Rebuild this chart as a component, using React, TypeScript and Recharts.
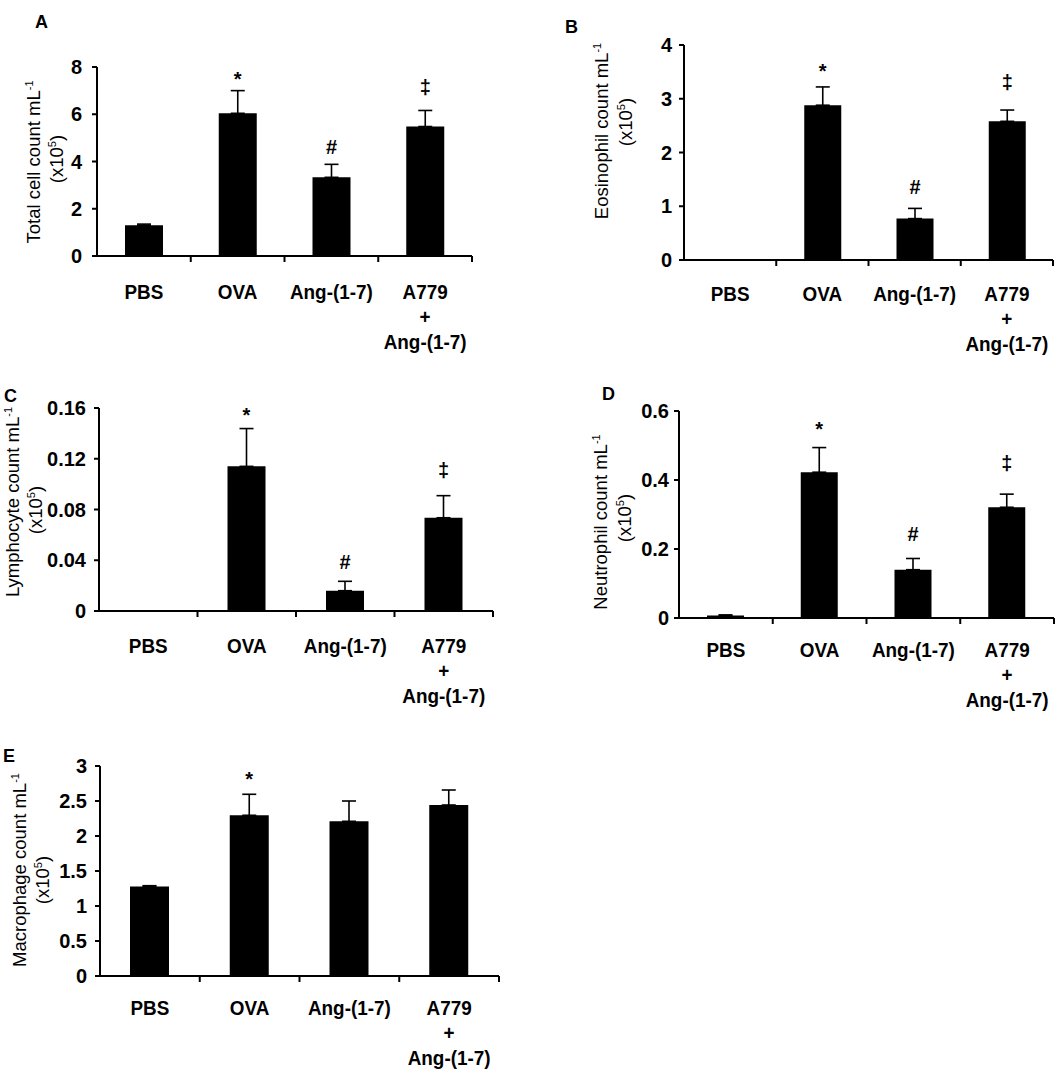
import React from "react";
import { BarChart, Bar, XAxis, YAxis, ErrorBar, LabelList } from "recharts";

const FONT = '"Liberation Sans", Arial, Helvetica, sans-serif';

// groups on the x axis (line breaks = stacked label lines)
const groups = ["PBS", "OVA", "Ang-(1-7)", "A779\n+\nAng-(1-7)"];

// A: total cells
const totalMean = [1.3, 6.04, 3.33, 5.48];
const totalErr = [0.05, 0.96, 0.55, 0.68];
const totalMarks = ["", "*", "#", "‡"];
const totalTicks = [0, 2, 4, 6, 8];

// B: eosinophils
const eosMean = [0, 2.88, 0.77, 2.58];
const eosErr = [0, 0.34, 0.19, 0.21];
const eosMarks = ["", "*", "#", "‡"];
const eosTicks = [0, 1, 2, 3, 4];

// C: lymphocytes
const lymMean = [0, 0.114, 0.016, 0.0735];
const lymErr = [0, 0.0298, 0.0074, 0.0174];
const lymMarks = ["", "*", "#", "‡"];
const lymTicks = [0, 0.04, 0.08, 0.12, 0.16];

// D: neutrophils
const neuMean = [0.007, 0.4226, 0.14, 0.321];
const neuErr = [0.002, 0.0714, 0.0325, 0.038];
const neuMarks = ["", "*", "#", "‡"];
const neuTicks = [0, 0.2, 0.4, 0.6];

// E: macrophages
const macMean = [1.28, 2.296, 2.21, 2.443];
const macErr = [0.01, 0.3, 0.29, 0.214];
const macMarks = ["", "*", "", ""];
const macTicks = [0, 0.5, 1, 1.5, 2, 2.5, 3];

type Panel = {
  letter: string;
  letterPos: [number, number];
  title: string;
  box: { left: number; top: number; width: number; height: number };
  plot: { left: number; right: number; top: number; bottom: number };
  titlePos: { x1: number; y1: number; x2: number; y2: number };
  values: number[];
  errors: number[];
  marks: string[];
  ticks: number[];
  barSize: number;
  tickMargin: number;
  labelDy: number;
  markGap: number;
};

const panels: Panel[] = [
  {
    letter: "A",
    letterPos: [35, 28],
    title: "Total cell count mL",
    box: { left: 0, top: 0, width: 500, height: 370 },
    plot: { left: 97, right: 472, top: 67, bottom: 256 },
    titlePos: { x1: 34, y1: 162, x2: 57, y2: 159 },
    values: totalMean,
    errors: totalErr,
    marks: totalMarks,
    ticks: totalTicks,
    barSize: 38,
    tickMargin: 10,
    labelDy: 35,
    markGap: 17,
  },
  {
    letter: "B",
    letterPos: [565, 33],
    title: "Eosinophil count mL",
    box: { left: 530, top: 20, width: 533, height: 350 },
    plot: { left: 684, right: 1053, top: 45, bottom: 260 },
    titlePos: { x1: 602, y1: 131, x2: 626, y2: 122 },
    values: eosMean,
    errors: eosErr,
    marks: eosMarks,
    ticks: eosTicks,
    barSize: 37,
    tickMargin: 7,
    labelDy: 33,
    markGap: 21,
  },
  {
    letter: "C",
    letterPos: [4, 402],
    title: "Lymphocyte count mL",
    box: { left: 0, top: 375, width: 520, height: 345 },
    plot: { left: 99, right: 493, top: 408, bottom: 611 },
    titlePos: { x1: 13, y1: 502, x2: 36, y2: 510 },
    values: lymMean,
    errors: lymErr,
    marks: lymMarks,
    ticks: lymTicks,
    barSize: 38,
    tickMargin: 8,
    labelDy: 34,
    markGap: 19,
  },
  {
    letter: "D",
    letterPos: [602, 400],
    title: "Neutrophil count mL",
    box: { left: 530, top: 380, width: 533, height: 345 },
    plot: { left: 679, right: 1054, top: 411, bottom: 618 },
    titlePos: { x1: 601, y1: 522, x2: 625, y2: 518 },
    values: neuMean,
    errors: neuErr,
    marks: neuMarks,
    ticks: neuTicks,
    barSize: 37,
    tickMargin: 5,
    labelDy: 31,
    markGap: 24,
  },
  {
    letter: "E",
    letterPos: [3, 762],
    title: "Macrophage count mL",
    box: { left: 0, top: 745, width: 520, height: 329 },
    plot: { left: 100, right: 499, top: 766, bottom: 976 },
    titlePos: { x1: 19.5, y1: 870, x2: 43, y2: 880 },
    values: macMean,
    errors: macErr,
    marks: macMarks,
    ticks: macTicks,
    barSize: 39,
    tickMargin: 8,
    labelDy: 31.5,
    markGap: 20,
  },
];

// how far the ink centre of each glyph sits above its baseline (20px bold)
const inkLift: Record<string, number> = { "*": 12, "#": 7, "‡": 5.3 };

const XTick = (props: any) => {
  const { x, y, payload, half, labelDy } = props;
  const lines = String(payload.value).split("\n");
  return (
    <g>
      <line x1={x + half} x2={x + half} y1={y} y2={y + 6} stroke="#000" strokeWidth={2} />
      {lines.map((ln, i) => (
        <text
          key={i}
          transform={`translate(${x},${y + labelDy + 7.5 + i * 25}) scale(0.9,1)`}
          textAnchor="middle"
          fontSize={21}
          fontWeight="bold"
          fill="#000"
          fontFamily={FONT}
        >
          {ln}
        </text>
      ))}
    </g>
  );
};

const ChartPanel = ({ p }: { p: Panel }) => {
  const data = groups.map((g, i) => ({
    group: g,
    value: p.values[i],
    err: [0, p.errors[i]],
    idx: i,
  }));
  const half = (p.plot.right - p.plot.left) / groups.length / 2;
  const yMax = p.ticks[p.ticks.length - 1];
  const ox = p.box.left;
  const oy = p.box.top;

  // label value is the group index, so zero-height bars can't shift the lookup
  const renderMark = (lp: any) => {
    const { x, y, width, height, value } = lp;
    const i = Number(value);
    const mark = p.marks[i];
    if (!mark) return null;
    const v = p.values[i];
    const errPx = v > 0 ? (p.errors[i] * Math.abs(height)) / v : 0;
    const extra = mark === "‡" ? 5 : 0;
    const base = y - errPx - (p.markGap + extra) + (inkLift[mark] || 6);
    return (
      <text
        x={x + width / 2}
        y={base}
        textAnchor="middle"
        fontSize={20}
        fontWeight="bold"
        fill="#000"
        fontFamily={FONT}
      >
        {mark}
      </text>
    );
  };

  const renderTitle = () => (
    <g fontFamily={FONT} fill="#000" fontSize={18.5}>
      <text
        transform={`translate(${p.titlePos.x1 - ox},${p.titlePos.y1 - oy}) rotate(-90)`}
        y={6}
        textAnchor="middle"
      >
        {p.title}
        <tspan dy={-7} fontSize={11}>
          -1
        </tspan>
      </text>
      <text
        transform={`translate(${p.titlePos.x2 - ox},${p.titlePos.y2 - oy}) rotate(-90)`}
        y={6}
        textAnchor="middle"
      >
        (x10
        <tspan dy={-7} fontSize={11}>
          5
        </tspan>
        <tspan dy={7}>)</tspan>
      </text>
    </g>
  );

  return (
    <div style={{ position: "absolute", left: p.box.left, top: p.box.top }}>
      <BarChart
        width={p.box.width}
        height={p.box.height}
        data={data}
        margin={{
          top: p.plot.top - oy,
          right: ox + p.box.width - p.plot.right,
          left: 0,
          bottom: 0,
        }}
      >
        <XAxis
          dataKey="group"
          interval={0}
          height={oy + p.box.height - p.plot.bottom}
          axisLine={{ stroke: "#000", strokeWidth: 2 }}
          tickLine={false}
          tickSize={0}
          tickMargin={0}
          tick={<XTick half={half} labelDy={p.labelDy} />}
        />
        <YAxis
          width={p.plot.left - ox}
          domain={[0, yMax]}
          ticks={p.ticks}
          interval={0}
          axisLine={{ stroke: "#000", strokeWidth: 2 }}
          tickLine={{ stroke: "#000", strokeWidth: 2 }}
          tickSize={5}
          tickMargin={p.tickMargin}
          tick={{ fill: "#000", fontSize: 20, fontWeight: 700, fontFamily: FONT }}
          label={{ content: renderTitle }}
        />
        <Bar dataKey="value" fill="#000" barSize={p.barSize} isAnimationActive={false}>
          <ErrorBar
            dataKey="err"
            width={7}
            stroke="#000"
            strokeWidth={1.6}
            direction="y"
            isAnimationActive={false}
          />
          <LabelList dataKey="idx" content={renderMark} />
        </Bar>
      </BarChart>
    </div>
  );
};

export default function App() {
  return (
    <div
      style={{
        position: "absolute",
        left: 0,
        top: 0,
        width: 1063,
        height: 1074,
        background: "#fff",
        fontFamily: FONT,
      }}
    >
      {panels.map((p) => (
        <ChartPanel key={p.letter} p={p} />
      ))}
      <svg
        width={1063}
        height={1074}
        style={{ position: "absolute", left: 0, top: 0, pointerEvents: "none" }}
      >
        {panels.map((p) => (
          <text
            key={p.letter}
            x={p.letterPos[0]}
            y={p.letterPos[1]}
            fontSize={18}
            fontWeight="bold"
            fill="#000"
            fontFamily={FONT}
          >
            {p.letter}
          </text>
        ))}
      </svg>
    </div>
  );
}
